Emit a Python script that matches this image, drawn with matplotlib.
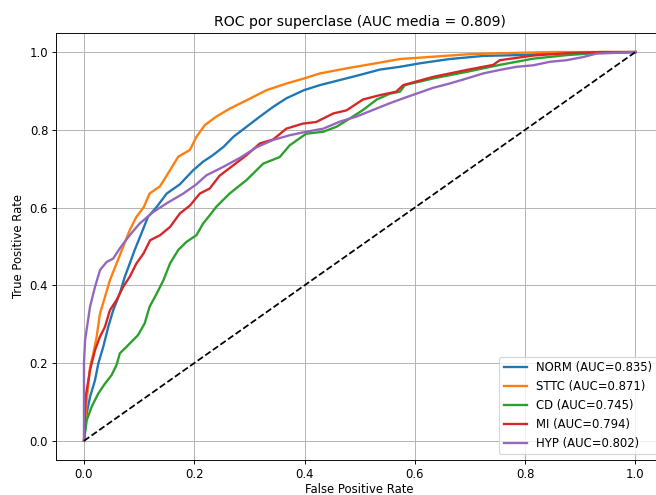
import matplotlib
matplotlib.use("Agg")
import matplotlib.pyplot as plt

# ROC points
classes = ["NORM", "STTC", "CD", "MI", "HYP"]
aucs = [0.835, 0.871, 0.745, 0.794, 0.802]
mean_auc = 0.809

fpr_norm = [0, 0.005, 0.011, 0.020, 0.026, 0.035, 0.044, 0.053, 0.065, 0.074, 0.083, 0.092,
            0.104, 0.116, 0.132, 0.150, 0.174, 0.198, 0.216, 0.234, 0.253, 0.271, 0.295,
            0.319, 0.343, 0.367, 0.399, 0.428, 0.464, 0.500, 0.537, 0.573, 0.609, 0.663,
            0.724, 0.784, 0.845, 0.905, 1.0]
tpr_norm = [0, 0.071, 0.113, 0.156, 0.199, 0.242, 0.293, 0.336, 0.379, 0.422, 0.456, 0.491,
            0.533, 0.576, 0.602, 0.636, 0.660, 0.696, 0.718, 0.735, 0.756, 0.782, 0.808,
            0.834, 0.859, 0.881, 0.902, 0.915, 0.928, 0.941, 0.955, 0.962, 0.971, 0.982,
            0.990, 0.992, 0.996, 0.999, 1.0]

fpr_sttc = [0, 0.005, 0.011, 0.017, 0.023, 0.029, 0.038, 0.047, 0.059, 0.071, 0.083, 0.095,
            0.108, 0.119, 0.138, 0.156, 0.171, 0.192, 0.204, 0.219, 0.240, 0.265, 0.295,
            0.331, 0.367, 0.399, 0.428, 0.476, 0.537, 0.573, 0.633, 0.694, 0.754, 0.85, 1.0]
tpr_sttc = [0, 0.105, 0.190, 0.225, 0.268, 0.327, 0.370, 0.413, 0.456, 0.499, 0.542, 0.576,
            0.600, 0.636, 0.655, 0.696, 0.731, 0.748, 0.782, 0.812, 0.834, 0.855, 0.876,
            0.902, 0.919, 0.932, 0.945, 0.958, 0.973, 0.982, 0.988, 0.994, 0.997, 1.0, 1.0]

fpr_cd = [0, 0.005, 0.014, 0.026, 0.038, 0.050, 0.059, 0.065, 0.080, 0.098, 0.110, 0.119,
          0.132, 0.144, 0.156, 0.171, 0.186, 0.204, 0.216, 0.228, 0.240, 0.264, 0.295, 0.325,
          0.355, 0.373, 0.403, 0.434, 0.458, 0.482, 0.506, 0.531, 0.555, 0.573, 0.582, 0.633,
          0.694, 0.754, 0.815, 0.875, 0.935, 1.0]
tpr_cd = [0, 0.053, 0.088, 0.122, 0.147, 0.169, 0.195, 0.225, 0.246, 0.272, 0.302, 0.345,
          0.379, 0.413, 0.456, 0.491, 0.512, 0.529, 0.559, 0.580, 0.602, 0.636, 0.671, 0.713,
          0.730, 0.760, 0.790, 0.795, 0.808, 0.829, 0.851, 0.878, 0.893, 0.898, 0.915, 0.932,
          0.949, 0.967, 0.983, 0.992, 0.998, 1.0]

fpr_mi = [0, 0.003, 0.011, 0.020, 0.029, 0.038, 0.047, 0.059, 0.071, 0.083, 0.095, 0.108,
          0.120, 0.138, 0.156, 0.174, 0.192, 0.210, 0.228, 0.246, 0.271, 0.295, 0.319, 0.343,
          0.367, 0.397, 0.421, 0.452, 0.476, 0.506, 0.536, 0.566, 0.579, 0.633, 0.694, 0.742,
          0.754, 0.815, 0.875, 0.935, 1.0]
tpr_mi = [0, 0.113, 0.182, 0.233, 0.268, 0.293, 0.336, 0.362, 0.396, 0.422, 0.456, 0.482,
          0.516, 0.529, 0.550, 0.585, 0.605, 0.636, 0.649, 0.682, 0.709, 0.735, 0.765, 0.775,
          0.803, 0.816, 0.820, 0.842, 0.850, 0.878, 0.889, 0.898, 0.915, 0.936, 0.954, 0.967,
          0.979, 0.991, 0.997, 1.0, 1.0]

fpr_hyp = [0, 0.0, 0.002, 0.011, 0.020, 0.029, 0.041, 0.053, 0.065, 0.083, 0.101, 0.126,
           0.150, 0.180, 0.204, 0.222, 0.253, 0.283, 0.313, 0.343, 0.373, 0.403, 0.434, 0.464,
           0.494, 0.524, 0.554, 0.579, 0.603, 0.633, 0.663, 0.694, 0.724, 0.754, 0.784, 0.815,
           0.845, 0.875, 0.905, 0.929, 0.965, 1.0]
tpr_hyp = [0, 0.20, 0.259, 0.345, 0.396, 0.439, 0.460, 0.469, 0.495, 0.529, 0.559, 0.589,
           0.611, 0.636, 0.660, 0.683, 0.705, 0.728, 0.755, 0.774, 0.786, 0.795, 0.803, 0.821,
           0.834, 0.851, 0.868, 0.881, 0.893, 0.908, 0.919, 0.932, 0.945, 0.954, 0.962, 0.966,
           0.975, 0.979, 0.987, 0.996, 0.998, 1.0]

fprs = [fpr_norm, fpr_sttc, fpr_cd, fpr_mi, fpr_hyp]
tprs = [tpr_norm, tpr_sttc, tpr_cd, tpr_mi, tpr_hyp]

DPI = 84  # reference was rendered a bit smaller than 100 dpi
fig = plt.figure(figsize=(656 / DPI, 495 / DPI), dpi=DPI)
# axes run slightly past the right edge, like the cropped reference
ax = fig.add_axes([56.4 / 656, 34.7 / 495, 606.6 / 656, 427.7 / 495])

for name, auc, fpr, tpr in zip(classes, aucs, fprs, tprs):
    ax.plot(fpr, tpr, lw=2, label=f"{name} (AUC={auc:.3f})")
ax.plot([0, 1], [0, 1], "k--", lw=1.5)

ax.set_title(f"ROC por superclase (AUC media = {mean_auc:.3f})")
ax.set_xlabel("False Positive Rate", labelpad=1.5)
ax.set_ylabel("True Positive Rate")
ax.grid(True)
ax.legend(loc="lower right")

fig.savefig("out.png", dpi=DPI)
